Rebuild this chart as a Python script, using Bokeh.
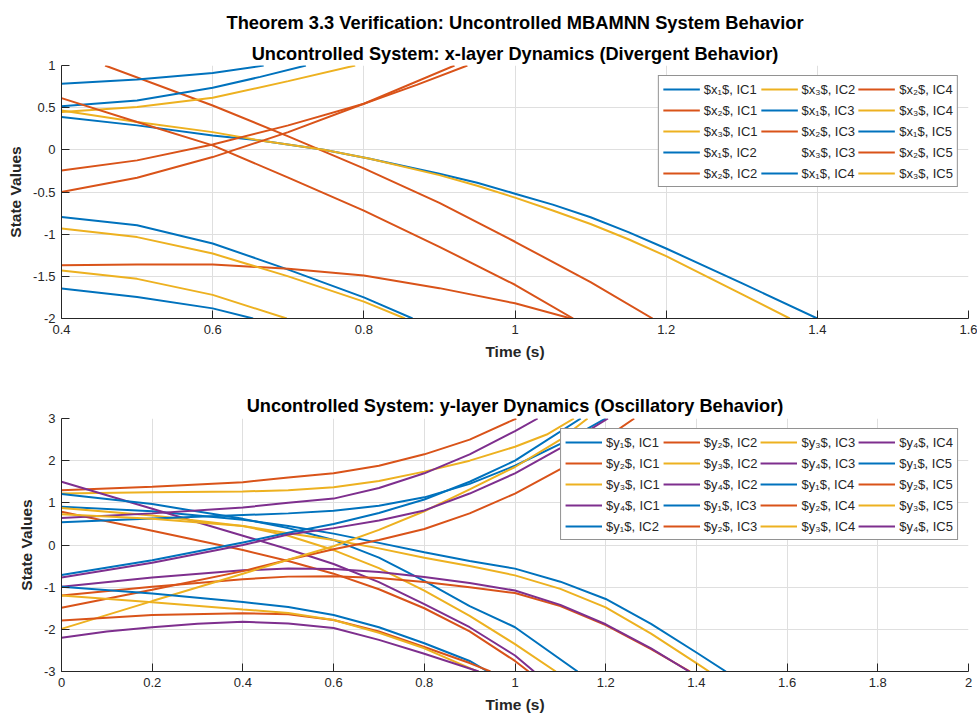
from bokeh.plotting import figure
from bokeh.layouts import column
from bokeh.models import Range1d, FixedTicker, Legend, LegendItem, Title
from bokeh.embed import file_html
from bokeh.resources import INLINE

# ---------------- data: x-layer (top panel) ----------------
x_ticks_top = [0.4, 0.6, 0.8, 1.0, 1.2, 1.4, 1.6]
x_tick_labels_top = ["0.4", "0.6", "0.8", "1", "1.2", "1.4", "1.6"]
y_ticks_top = [-2, -1.5, -1, -0.5, 0, 0.5, 1]
y_tick_labels_top = ["-2", "-1.5", "-1", "-0.5", "0", "0.5", "1"]

x1_ic1_t = [0.4, 0.5, 0.6, 0.663, 0.747, 0.808, 0.9, 0.95, 1.0, 1.05, 1.1, 1.15, 1.2, 1.3, 1.4]
x1_ic1_v = [0.388, 0.29, 0.17, 0.11, 0.0, -0.105, -0.283, -0.39, -0.52, -0.65, -0.80, -0.975, -1.17, -1.58, -2.0]
x2_ic1_t = [0.4576, 0.6, 0.7, 0.8, 0.9, 1.0, 1.1, 1.182]
x2_ic1_v = [1.0, 0.526, 0.16, -0.22, -0.63, -1.09, -1.57, -2.0]
x3_ic1_t = [0.4, 0.5, 0.6, 0.663, 0.747, 0.808, 0.9, 0.95, 1.0, 1.05, 1.1, 1.15, 1.2, 1.3, 1.3635]
x3_ic1_v = [0.467, 0.33, 0.21, 0.11, 0.0, -0.105, -0.30, -0.425, -0.567, -0.72, -0.88, -1.06, -1.26, -1.71, -2.0]
x1_ic2_t = [0.4, 0.5, 0.6, 0.6675]
x1_ic2_v = [0.783, 0.835, 0.91, 1.0]
x2_ic2_t = [0.4, 0.5, 0.6, 0.7, 0.8, 0.87, 0.937]
x2_ic2_v = [-0.244, -0.125, 0.064, 0.29, 0.546, 0.77, 1.0]
x3_ic2_t = [0.4, 0.5, 0.6, 0.7, 0.7886]
x3_ic2_v = [0.45, 0.507, 0.617, 0.815, 1.0]
x1_ic3_t = [0.4, 0.5, 0.6, 0.663, 0.7234]
x1_ic3_v = [0.518, 0.585, 0.735, 0.865, 1.0]
x2_ic3_t = [0.4, 0.5, 0.6, 0.7, 0.8, 0.92]
x2_ic3_v = [-0.5, -0.33, -0.086, 0.21, 0.546, 1.0]
x3_ic3_t = []
x3_ic3_v = []
x1_ic4_t = [0.4, 0.5, 0.6, 0.7, 0.8, 0.8645]
x1_ic4_v = [-0.796, -0.895, -1.11, -1.42, -1.75, -2.0]
x2_ic4_t = [0.4, 0.5, 0.6, 0.7, 0.8, 0.9, 1.0, 1.074]
x2_ic4_v = [-1.369, -1.36, -1.36, -1.41, -1.49, -1.64, -1.82, -2.0]
x3_ic4_t = [0.4, 0.5, 0.6, 0.7, 0.8, 0.8544]
x3_ic4_v = [-0.934, -1.035, -1.23, -1.5, -1.8, -2.0]
x1_ic5_t = [0.4, 0.5, 0.6, 0.6535]
x1_ic5_v = [-1.645, -1.745, -1.88, -2.0]
x2_ic5_t = [0.4, 0.5, 0.6, 0.7, 0.8, 0.9, 1.0, 1.077]
x2_ic5_v = [0.613, 0.33, 0.053, -0.33, -0.72, -1.15, -1.6, -2.0]
x3_ic5_t = [0.4, 0.5, 0.6, 0.698]
x3_ic5_v = [-1.43, -1.53, -1.72, -2.0]

# ---------------- data: y-layer (bottom panel) ----------------
x_ticks_bot = [0, 0.2, 0.4, 0.6, 0.8, 1.0, 1.2, 1.4, 1.6, 1.8, 2.0]
x_tick_labels_bot = ["0", "0.2", "0.4", "0.6", "0.8", "1", "1.2", "1.4", "1.6", "1.8", "2"]
y_ticks_bot = [-3, -2, -1, 0, 1, 2, 3]
y_tick_labels_bot = ["-3", "-2", "-1", "0", "1", "2", "3"]

y1_ic1_t = [0, 0.2, 0.4, 0.5, 0.6, 0.7, 0.8, 0.9, 1.0, 1.1, 1.2, 1.3, 1.4, 1.465]
y1_ic1_v = [0.91, 0.8, 0.6, 0.45, 0.27, 0.05, -0.17, -0.38, -0.56, -0.87, -1.28, -1.87, -2.55, -3.0]
y2_ic1_t = [0, 0.2, 0.4, 0.5, 0.6, 0.7, 0.8, 0.9, 1.003]
y2_ic1_v = [1.30, 1.38, 1.49, 1.60, 1.70, 1.88, 2.15, 2.5, 3.0]
y3_ic1_t = [0, 0.2, 0.4, 0.5, 0.6, 0.7, 0.8, 0.9, 1.0, 1.07, 1.13]
y3_ic1_v = [1.22, 1.25, 1.27, 1.30, 1.37, 1.52, 1.74, 2.0, 2.33, 2.62, 3.0]
y4_ic1_t = [0, 0.2, 0.4, 0.5, 0.6, 0.7, 0.8, 0.9, 1.0, 1.042]
y4_ic1_v = [1.5, 0.86, 0.22, -0.1, -0.45, -0.88, -1.4, -1.95, -2.62, -3.0]

y1_ic2_t = [0, 0.2, 0.4, 0.5, 0.6, 0.7, 0.8, 0.9, 1.0, 1.138]
y1_ic2_v = [1.21, 0.97, 0.62, 0.4, 0.12, -0.3, -0.85, -1.45, -1.95, -3.0]
y2_ic2_t = [0, 0.2, 0.4, 0.5, 0.6, 0.7, 0.8, 0.9, 1.0, 1.03]
y2_ic2_v = [0.79, 0.34, -0.12, -0.38, -0.68, -1.05, -1.5, -2.05, -2.75, -3.0]
y3_ic2_t = [0, 0.2, 0.4, 0.5, 0.6, 0.7, 0.8, 0.9, 1.0, 1.09]
y3_ic2_v = [0.88, 0.7, 0.45, 0.22, -0.12, -0.55, -1.08, -1.68, -2.35, -3.0]
y4_ic2_t = [0, 0.2, 0.4, 0.5, 0.6, 0.7, 0.8, 0.9, 1.0, 1.05]
y4_ic2_v = [0.64, 0.75, 0.89, 1.0, 1.1, 1.35, 1.70, 2.15, 2.7, 3.0]

y1_ic3_t = [0, 0.2, 0.4, 0.5, 0.6, 0.7, 0.8, 0.9, 1.0, 1.1, 1.2]
y1_ic3_v = [0.54, 0.63, 0.71, 0.75, 0.81, 0.93, 1.13, 1.45, 1.88, 2.4, 3.0]
y2_ic3_t = [0, 0.2, 0.4, 0.5, 0.6, 0.7, 0.8, 0.9, 1.0, 1.1, 1.2, 1.3, 1.386]
y2_ic3_v = [-1.2, -0.99, -0.81, -0.75, -0.74, -0.78, -0.88, -1.0, -1.14, -1.45, -1.9, -2.47, -3.0]
y3_ic3_t = [0, 0.2, 0.4, 0.5, 0.6, 0.7, 0.8, 0.9, 1.0, 1.1, 1.2, 1.3, 1.4, 1.428]
y3_ic3_v = [0.73, 0.62, 0.45, 0.28, 0.12, -0.08, -0.3, -0.5, -0.72, -1.04, -1.48, -2.1, -2.8, -3.0]
y4_ic3_t = [0, 0.2, 0.4, 0.5, 0.6, 0.7, 0.8, 0.9, 1.0, 1.1, 1.2, 1.3, 1.384]
y4_ic3_v = [-0.99, -0.77, -0.6, -0.56, -0.57, -0.64, -0.76, -0.9, -1.08, -1.42, -1.88, -2.45, -3.0]

y1_ic4_t = [0, 0.2, 0.4, 0.5, 0.6, 0.7, 0.8, 0.9, 1.0, 1.145]
y1_ic4_v = [-0.71, -0.36, 0.06, 0.29, 0.5, 0.76, 1.08, 1.5, 2.0, 3.0]
y2_ic4_t = [0, 0.2, 0.4, 0.5, 0.6, 0.7, 0.8, 0.9, 1.0, 1.1, 1.263]
y2_ic4_v = [-1.49, -1.06, -0.62, -0.35, -0.1, 0.12, 0.38, 0.75, 1.22, 1.8, 3.0]
y3_ic4_t = [0, 0.2, 0.4, 0.5, 0.6, 0.7, 0.8, 0.9, 1.0, 1.1, 1.16]
y3_ic4_v = [-1.99, -1.33, -0.68, -0.35, -0.03, 0.36, 0.8, 1.32, 1.85, 2.5, 3.0]
y4_ic4_t = [0, 0.2, 0.4, 0.5, 0.6, 0.7, 0.8, 0.9, 1.0, 1.1, 1.205]
y4_ic4_v = [-0.77, -0.42, 0.0, 0.25, 0.4, 0.58, 0.82, 1.22, 1.7, 2.3, 3.0]

y1_ic5_t = [0, 0.2, 0.4, 0.5, 0.6, 0.7, 0.8, 0.9, 0.94]
y1_ic5_v = [-0.99, -1.15, -1.35, -1.47, -1.66, -1.95, -2.33, -2.75, -3.0]
y2_ic5_t = [0, 0.2, 0.4, 0.5, 0.6, 0.7, 0.8, 0.9, 0.946]
y2_ic5_v = [-1.79, -1.66, -1.62, -1.64, -1.78, -2.05, -2.42, -2.8, -3.0]
y3_ic5_t = [0, 0.2, 0.4, 0.5, 0.6, 0.7, 0.8, 0.917]
y3_ic5_v = [-1.2, -1.36, -1.53, -1.61, -1.78, -2.08, -2.45, -3.0]
y4_ic5_t = [0, 0.1, 0.2, 0.3, 0.4, 0.5, 0.6, 0.7, 0.8, 0.92]
y4_ic5_v = [-2.2, -2.05, -1.95, -1.87, -1.82, -1.86, -1.97, -2.25, -2.58, -3.0]

# ---------------- styles ----------------
COLORS = {"1": "#0072BD", "2": "#D95319", "3": "#EDB120", "4": "#7E2F8E"}
SUB = {"1": "\u2081", "2": "\u2082", "3": "\u2083", "4": "\u2084"}
FONT = "Liberation Sans"
AX = "#262626"
G = globals()


def style(p, xt, xl, yt, yl):
    p.xaxis.ticker = FixedTicker(ticks=xt)
    p.yaxis.ticker = FixedTicker(ticks=yt)
    p.xaxis.major_label_overrides = dict(zip(xt, xl))
    p.yaxis.major_label_overrides = dict(zip(yt, yl))
    for ax in (p.xaxis[0], p.yaxis[0]):
        ax.axis_line_color = AX
        ax.axis_line_width = 1
        ax.major_tick_in = 8
        ax.major_tick_out = 0
        ax.minor_tick_in = 0
        ax.minor_tick_out = 0
        ax.major_tick_line_color = AX
        ax.major_label_text_font = FONT
        ax.major_label_text_font_size = "13px"
        ax.major_label_text_color = AX
        ax.major_label_standoff = 6
        ax.axis_label_text_font = FONT
        ax.axis_label_text_font_size = "15.5px"
        ax.axis_label_text_font_style = "bold"
        ax.axis_label_text_color = AX
        ax.axis_label_standoff = 6
    p.xaxis.axis_label = "Time (s)"
    p.yaxis.axis_label = "State Values"
    for g in (p.xgrid[0], p.ygrid[0]):
        g.grid_line_color = "#dfdfdf"
        g.grid_line_width = 1
    p.outline_line_color = None


def title_style(t, size, standoff):
    t.align = "center"
    t.text_font = FONT
    t.text_font_size = size
    t.text_font_style = "bold"
    t.text_color = "black"
    t.standoff = standoff


def make_legend(p, items, nrows):
    leg = Legend(items=items, location="top_right", orientation="vertical", nrows=nrows,
                 margin=10, padding=4, spacing=3, glyph_width=37, glyph_height=18,
                 label_height=18, label_standoff=4, label_width=50,
                 label_text_font=FONT, label_text_font_size="13px", label_text_color=AX,
                 border_line_color=AX, border_line_width=1, background_fill_alpha=1)
    p.add_layout(leg)


# ---------------- top figure ----------------
p1 = figure(frame_width=907, frame_height=253, min_border_left=61, min_border_right=9,
            min_border_top=65, min_border_bottom=60,
            x_range=Range1d(0.4, 1.6), y_range=Range1d(-2, 1),
            output_backend="svg", toolbar_location=None,
            title="Theorem 3.3 Verification: Uncontrolled MBAMNN System Behavior")
style(p1, x_ticks_top, x_tick_labels_top, y_ticks_top, y_tick_labels_top)
title_style(p1.title, "18.3px", 13)
sub1 = Title(text="Uncontrolled System: x-layer Dynamics (Divergent Behavior)")
title_style(sub1, "18.2px", 4)
p1.add_layout(sub1, "above")
items1 = []
for ic in range(1, 6):
    for v in ("1", "2", "3"):
        t = G[f"x{v}_ic{ic}_t"]
        y = G[f"x{v}_ic{ic}_v"]
        r = p1.line(t, y, line_color=COLORS[v], line_width=2)
        items1.append(LegendItem(label=f"$x{SUB[v]}$, IC{ic}", renderers=[r]))
make_legend(p1, items1, 5)

# ---------------- bottom figure ----------------
p2 = figure(frame_width=907, frame_height=253, min_border_left=61, min_border_right=9,
            min_border_top=40, min_border_bottom=42,
            x_range=Range1d(0, 2), y_range=Range1d(-3, 3),
            output_backend="svg", toolbar_location=None,
            title="Uncontrolled System: y-layer Dynamics (Oscillatory Behavior)")
style(p2, x_ticks_bot, x_tick_labels_bot, y_ticks_bot, y_tick_labels_bot)
title_style(p2.title, "18.2px", 5)
items2 = []
for ic in range(1, 6):
    for v in ("1", "2", "3", "4"):
        t = G[f"y{v}_ic{ic}_t"]
        y = G[f"y{v}_ic{ic}_v"]
        r = p2.line(t, y, line_color=COLORS[v], line_width=2)
        items2.append(LegendItem(label=f"$y{SUB[v]}$, IC{ic}", renderers=[r]))
make_legend(p2, items2, 5)

layout = column(p1, p2, spacing=0)
open("out.html", "w").write(file_html(layout, INLINE))
